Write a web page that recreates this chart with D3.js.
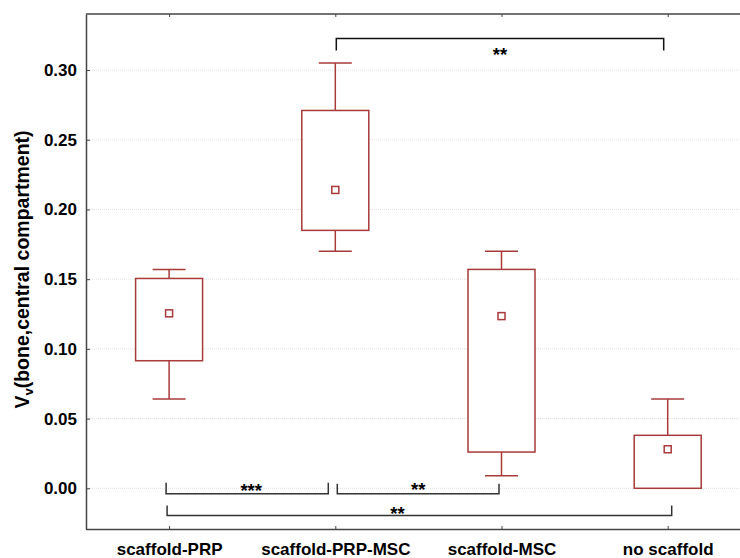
<!DOCTYPE html>
<html>
<head>
<meta charset="utf-8">
<script src="https://cdn.jsdelivr.net/npm/d3@7"></script>
<style>
  html, body { margin: 0; padding: 0; background: #fff; }
  svg { display: block; }
  text { font-family: "Liberation Sans", Arial, sans-serif; font-weight: bold; fill: #000; }
</style>
</head>
<body>
<svg id="chart" width="740" height="558"></svg>
<script>
// ---- data ----
const categories = ["scaffold-PRP", "scaffold-PRP-MSC", "scaffold-MSC", "no scaffold"];
const whiskerHigh = [0.157, 0.305, 0.170, 0.064];
const boxHigh     = [0.1505, 0.271, 0.157, 0.038];
const meanValues  = [0.1255, 0.214, 0.1235, 0.028];
const boxLow      = [0.0915, 0.185, 0.026, 0.000];
const whiskerLow  = [0.064, 0.170, 0.009, 0.000];
const yTicks = [0.00, 0.05, 0.10, 0.15, 0.20, 0.25, 0.30];
const yLabelMain = "V";
const yLabelSub = "v";
const yLabelRest = "(bone,central compartment)";
// significance brackets: from/to category, level (data units), label
const sigFrom  = ["scaffold-PRP-MSC", "scaffold-PRP", "scaffold-PRP-MSC", "scaffold-PRP"];
const sigTo    = ["no scaffold", "scaffold-PRP-MSC", "scaffold-MSC", "no scaffold"];
const sigLevel = [0.3227, -0.0040, -0.0040, -0.0196];
const sigLabel = ["**", "***", "**", "**"];

// ---- layout ----
const svg = d3.select("#chart");
const mLeft = 86, mTop = 14, mBottom = 529;
const x = d3.scalePoint().domain(categories).range([mLeft, mLeft + 4 * 166.2]).padding(0.5);
const y = d3.scaleLinear().domain([-0.0292, 0.3402]).range([mBottom, mTop]);

const red = "#a83a3a";
const axisCol = "#444";
const fontFam = '"Liberation Sans", Arial, sans-serif';

// gridlines
svg.append("g").selectAll("line").data(yTicks).join("line")
  .attr("x1", mLeft).attr("x2", 740)
  .attr("y1", d => y(d)).attr("y2", d => y(d))
  .attr("stroke", "#e0e0e0").attr("stroke-width", 1).attr("stroke-dasharray", "1,1");

// left axis
const yAxis = d3.axisLeft(y).tickValues(yTicks).tickFormat(d3.format(".2f")).tickSizeInner(-4).tickSizeOuter(0).tickPadding(9);
const gy = svg.append("g").attr("transform", `translate(${mLeft},0)`).call(yAxis);
gy.select(".domain").attr("stroke", axisCol).attr("stroke-width", 1.5);
gy.selectAll(".tick line").attr("stroke", axisCol);
gy.selectAll(".tick text").style("font-size", "17px").style("font-weight", "bold").attr("fill", "#000")
  .style("font-family", fontFam);

// bottom axis
const xAxis = d3.axisBottom(x).tickSizeInner(-3).tickSizeOuter(0).tickPadding(14);
const gx = svg.append("g").attr("transform", `translate(0,${mBottom})`).call(xAxis);
gx.select(".domain").attr("d", `M${mLeft},0.5H740`).attr("stroke", axisCol).attr("stroke-width", 1.5);
gx.selectAll(".tick line").attr("stroke", axisCol);
gx.selectAll(".tick text").style("font-size", "17px").style("font-weight", "bold").attr("fill", "#000")
  .style("font-family", fontFam).attr("dy", "0.71em");

// top axis (frame)
const xTop = d3.axisTop(x).tickSizeInner(-3).tickSizeOuter(0).tickFormat("");
const gt = svg.append("g").attr("transform", `translate(0,${mTop})`).call(xTop);
gt.select(".domain").attr("d", `M${mLeft},0H740`).attr("stroke", axisCol).attr("stroke-width", 1.5);
gt.selectAll(".tick line").attr("stroke", axisCol);

// boxes
const idx = d3.range(categories.length);
const boxW = 67, capW = 33, mk = 7;
const g = svg.append("g").attr("fill", "none").attr("stroke", red).attr("stroke-width", 1.5);
idx.forEach(i => {
  const cx = x(categories[i]);
  if (whiskerHigh[i] > boxHigh[i]) {
    g.append("line").attr("x1", cx).attr("x2", cx).attr("y1", y(boxHigh[i])).attr("y2", y(whiskerHigh[i]));
    g.append("line").attr("x1", cx - capW / 2).attr("x2", cx + capW / 2).attr("y1", y(whiskerHigh[i])).attr("y2", y(whiskerHigh[i]));
  }
  if (whiskerLow[i] < boxLow[i]) {
    g.append("line").attr("x1", cx).attr("x2", cx).attr("y1", y(boxLow[i])).attr("y2", y(whiskerLow[i]));
    g.append("line").attr("x1", cx - capW / 2).attr("x2", cx + capW / 2).attr("y1", y(whiskerLow[i])).attr("y2", y(whiskerLow[i]));
  }
  g.append("rect").attr("x", cx - boxW / 2).attr("y", y(boxHigh[i]))
    .attr("width", boxW).attr("height", y(boxLow[i]) - y(boxHigh[i])).attr("fill", "#fff");
  g.append("rect").attr("x", cx - mk / 2).attr("y", y(meanValues[i]) - mk / 2)
    .attr("width", mk).attr("height", mk).attr("fill", "#fff");
});

// significance brackets
const sigOffsets = [[1, -4], [-3, -7], [2, -2.5], [-2, 4]];
const sigTickLen = [12, -11, -10, -10];
const sigTextDy = [22.5, 3.5, 1.8, 4];
const sg = svg.append("g");
sigLabel.forEach((lab, i) => {
  const x1 = x(sigFrom[i]) + sigOffsets[i][0];
  const x2 = x(sigTo[i]) + sigOffsets[i][1];
  const yy = y(sigLevel[i]);
  const t = sigTickLen[i];
  sg.append("path")
    .attr("d", `M${x1},${yy + t}V${yy}H${x2}V${yy + t}`)
    .attr("fill", "none").attr("stroke", i === 0 ? "#111" : "#333").attr("stroke-width", 1.5);
  let tx = (x1 + x2) / 2;
  if (i === 1) tx = (x1 + x2) / 2 + 4;
  if (i === 3) tx = 397.5;
  sg.append("text").attr("x", tx).attr("y", yy + sigTextDy[i]).attr("text-anchor", "middle")
    .style("font-size", "18.5px").text(lab);
});

// y label
const yl = svg.append("text")
  .attr("transform", `translate(29,${(129 + 410) / 2}) rotate(-90)`)
  .attr("text-anchor", "middle")
  .style("font-size", "19.5px");
yl.append("tspan").text(yLabelMain);
yl.append("tspan").text(yLabelSub).style("font-size", "13px").attr("dy", "4");
yl.append("tspan").text(yLabelRest).attr("dy", "-4");
</script>
</body>
</html>
